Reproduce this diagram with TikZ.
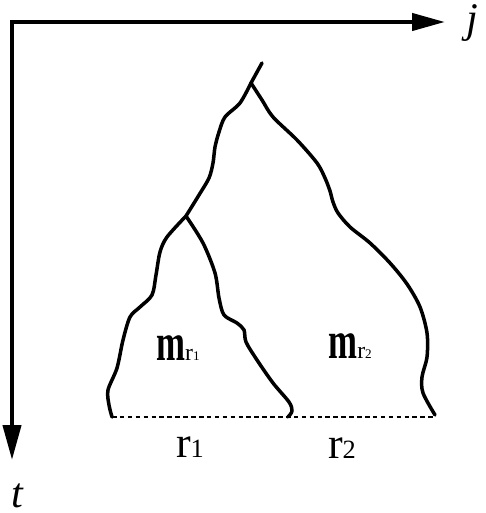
\documentclass[tikz,border=0pt]{standalone}
\usepackage{fontspec}
\setmainfont{Liberation Serif}
\usepackage{tikz}
\usetikzlibrary{arrows.meta}
\newcommand{\mlabel}[1]{\scalebox{0.66}[1]{\fontsize{30}{34}\selectfont\bfseries m}{\fontsize{13.5}{15}\selectfont r}{\fontsize{7.5}{9}\selectfont #1}}
\newcommand{\rlabel}[1]{{\fontsize{25}{28}\selectfont r}{\fontsize{15}{18}\selectfont #1}}

\begin{document}
\begin{tikzpicture}[
    x=0.02cm, y=-0.02cm,
    axis/.style={line width=2.4pt, {Triangle[length=0.7cm,width=0.36cm]}-{Triangle[length=0.66cm,width=0.34cm]}},
    branch/.style={line width=2pt, line cap=round, line join=round},
    base/.style={line width=1.7pt, dash pattern=on 2.6pt off 1.9pt},
    axlbl/.style={font=\fontsize{24}{28}\selectfont\itshape, inner sep=0pt}
  ]
    \useasboundingbox (0,0) rectangle (486,513);
    \coordinate (tend) at (12,460);
    \coordinate (jend) at (445,22);
    \draw[axis] (tend) |- (jend);
    \node[axlbl] (j) at (472,23) {j};
    \node[axlbl] (t) at (17,496) {t};

    \coordinate (tip) at (262,63);
    \coordinate (root) at (251,83);
    \coordinate (split) at (186,216);
    \coordinate (leafL) at (112,417);
    \coordinate (leafM) at (288,417);
    \coordinate (leafR) at (435,415);

    \draw[branch] (tip) -- (root);
    \draw[branch] plot[smooth, tension=0.5] coordinates {(root) (240,103) (225,117) (219,132) (215,147) (213,163) (209,178) (199,195) (split)};
    \draw[branch] plot[smooth, tension=0.5] coordinates {(root) (262,100) (273,117) (297,140) (317,163) (325,178) (330,191) (333,202) (338,213) (350,227) (370,243) (390,263) (407,284) (420,307) (427,333) (427,357) (422,377) (423,393) (leafR)};
    \draw[branch] plot[smooth, tension=0.5] coordinates {(split) (167,237) (160,252) (156,275) (152,295) (140,307) (130,317) (123,340) (117,368) (108,390) (109,405) (leafL)};
    \draw[branch] plot[smooth, tension=0.5] coordinates {(split) (203,243) (215,273) (219,298) (224,315) (237,323) (244,330) (246,342) (257,360) (273,383) (289,402) (292,411) (leafM)};
    \draw[base] (leafL) -- (leafM) -- (leafR |- leafM);

    \node[inner sep=0pt] (m1) at (178,348) {\mlabel{1}};
    \node[inner sep=0pt] (m2) at (350,346) {\mlabel{2}};
    \node[inner sep=0pt] (r1) at (190,447) {\rlabel{1}};
    \node[inner sep=0pt] (r2) at (342,448) {\rlabel{2}};
  \end{tikzpicture}
\end{document}
